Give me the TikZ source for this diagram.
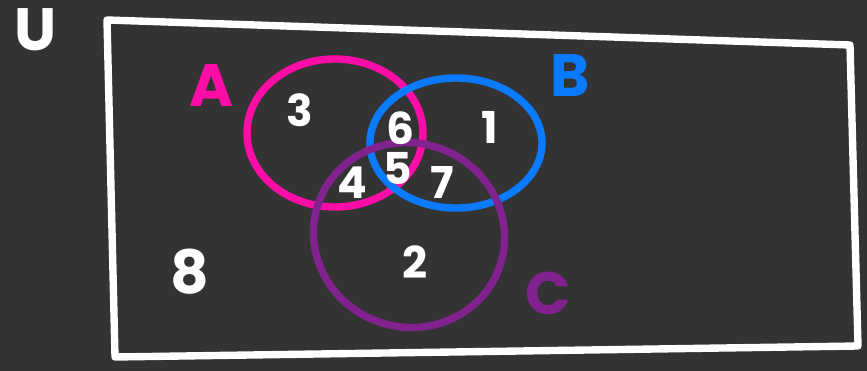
\documentclass[tikz,border=0pt]{standalone}
\usepackage{fontspec}
\setmainfont{Poppins}
\usepackage{tikz}
\usetikzlibrary{positioning,shapes.geometric}

\definecolor{board}{HTML}{333333}
\definecolor{setpink}{HTML}{FF0DA6}
\definecolor{setblue}{HTML}{0A7BFF}
\definecolor{setpurple}{HTML}{82228F}

\begin{document}
\begin{tikzpicture}[x=0.02cm, y=-0.02cm,
  chalk/.style={line width=4.2pt, line cap=round, line join=round},
  region/.style={ellipse, draw, chalk, minimum width=#1},
  digit/.style={text=white, font=\fontsize{25}{25}\selectfont\bfseries},
  bigdigit/.style={text=white, font=\fontsize{34}{34}\selectfont\bfseries},
  letter/.style={font=\fontsize{34}{34}\selectfont\bfseries}]
\fill[board] (0,0) rectangle (867,371);
\useasboundingbox (0,0) rectangle (867,371);
% universe box
\coordinate (tl) at (107,20);
\coordinate (tr) at (850,45);
\coordinate (br) at (858,346);
\coordinate (bl) at (115,357);
\draw[chalk, white] (tl) -- (tr) -- (br) -- (bl) -- cycle;
\node[letter, text=white] (labU) at (36,30) {U};
% the three sets
\node[region=176*0.02cm, minimum height=148*0.02cm, setpink] (setA) at (335,133) {};
\node[region=172*0.02cm, minimum height=130*0.02cm, setblue] (setB) at (456,143) {};
\node[region=192*0.02cm, minimum height=184*0.02cm, setpurple, rotate=-20] (setC) at (409,235) {};
\node[letter, text=setpink] (labA) at (212,86) {A};
\node[letter, text=setblue] (labB) at (570,76) {B};
\node[letter, text=setpurple] (labC) at (548,293) {C};
% counts in each region
\foreach \x/\y/\n in {300/110/3, 400/128/6, 490/127/1, 398/168/5, 352/183/4, 442/182/7, 415/262/2} {
  \node[digit] (n\n) at (\x,\y) {\n};
}
\node[bigdigit] (n8) at (190,272) {8};
\end{tikzpicture}
\end{document}
